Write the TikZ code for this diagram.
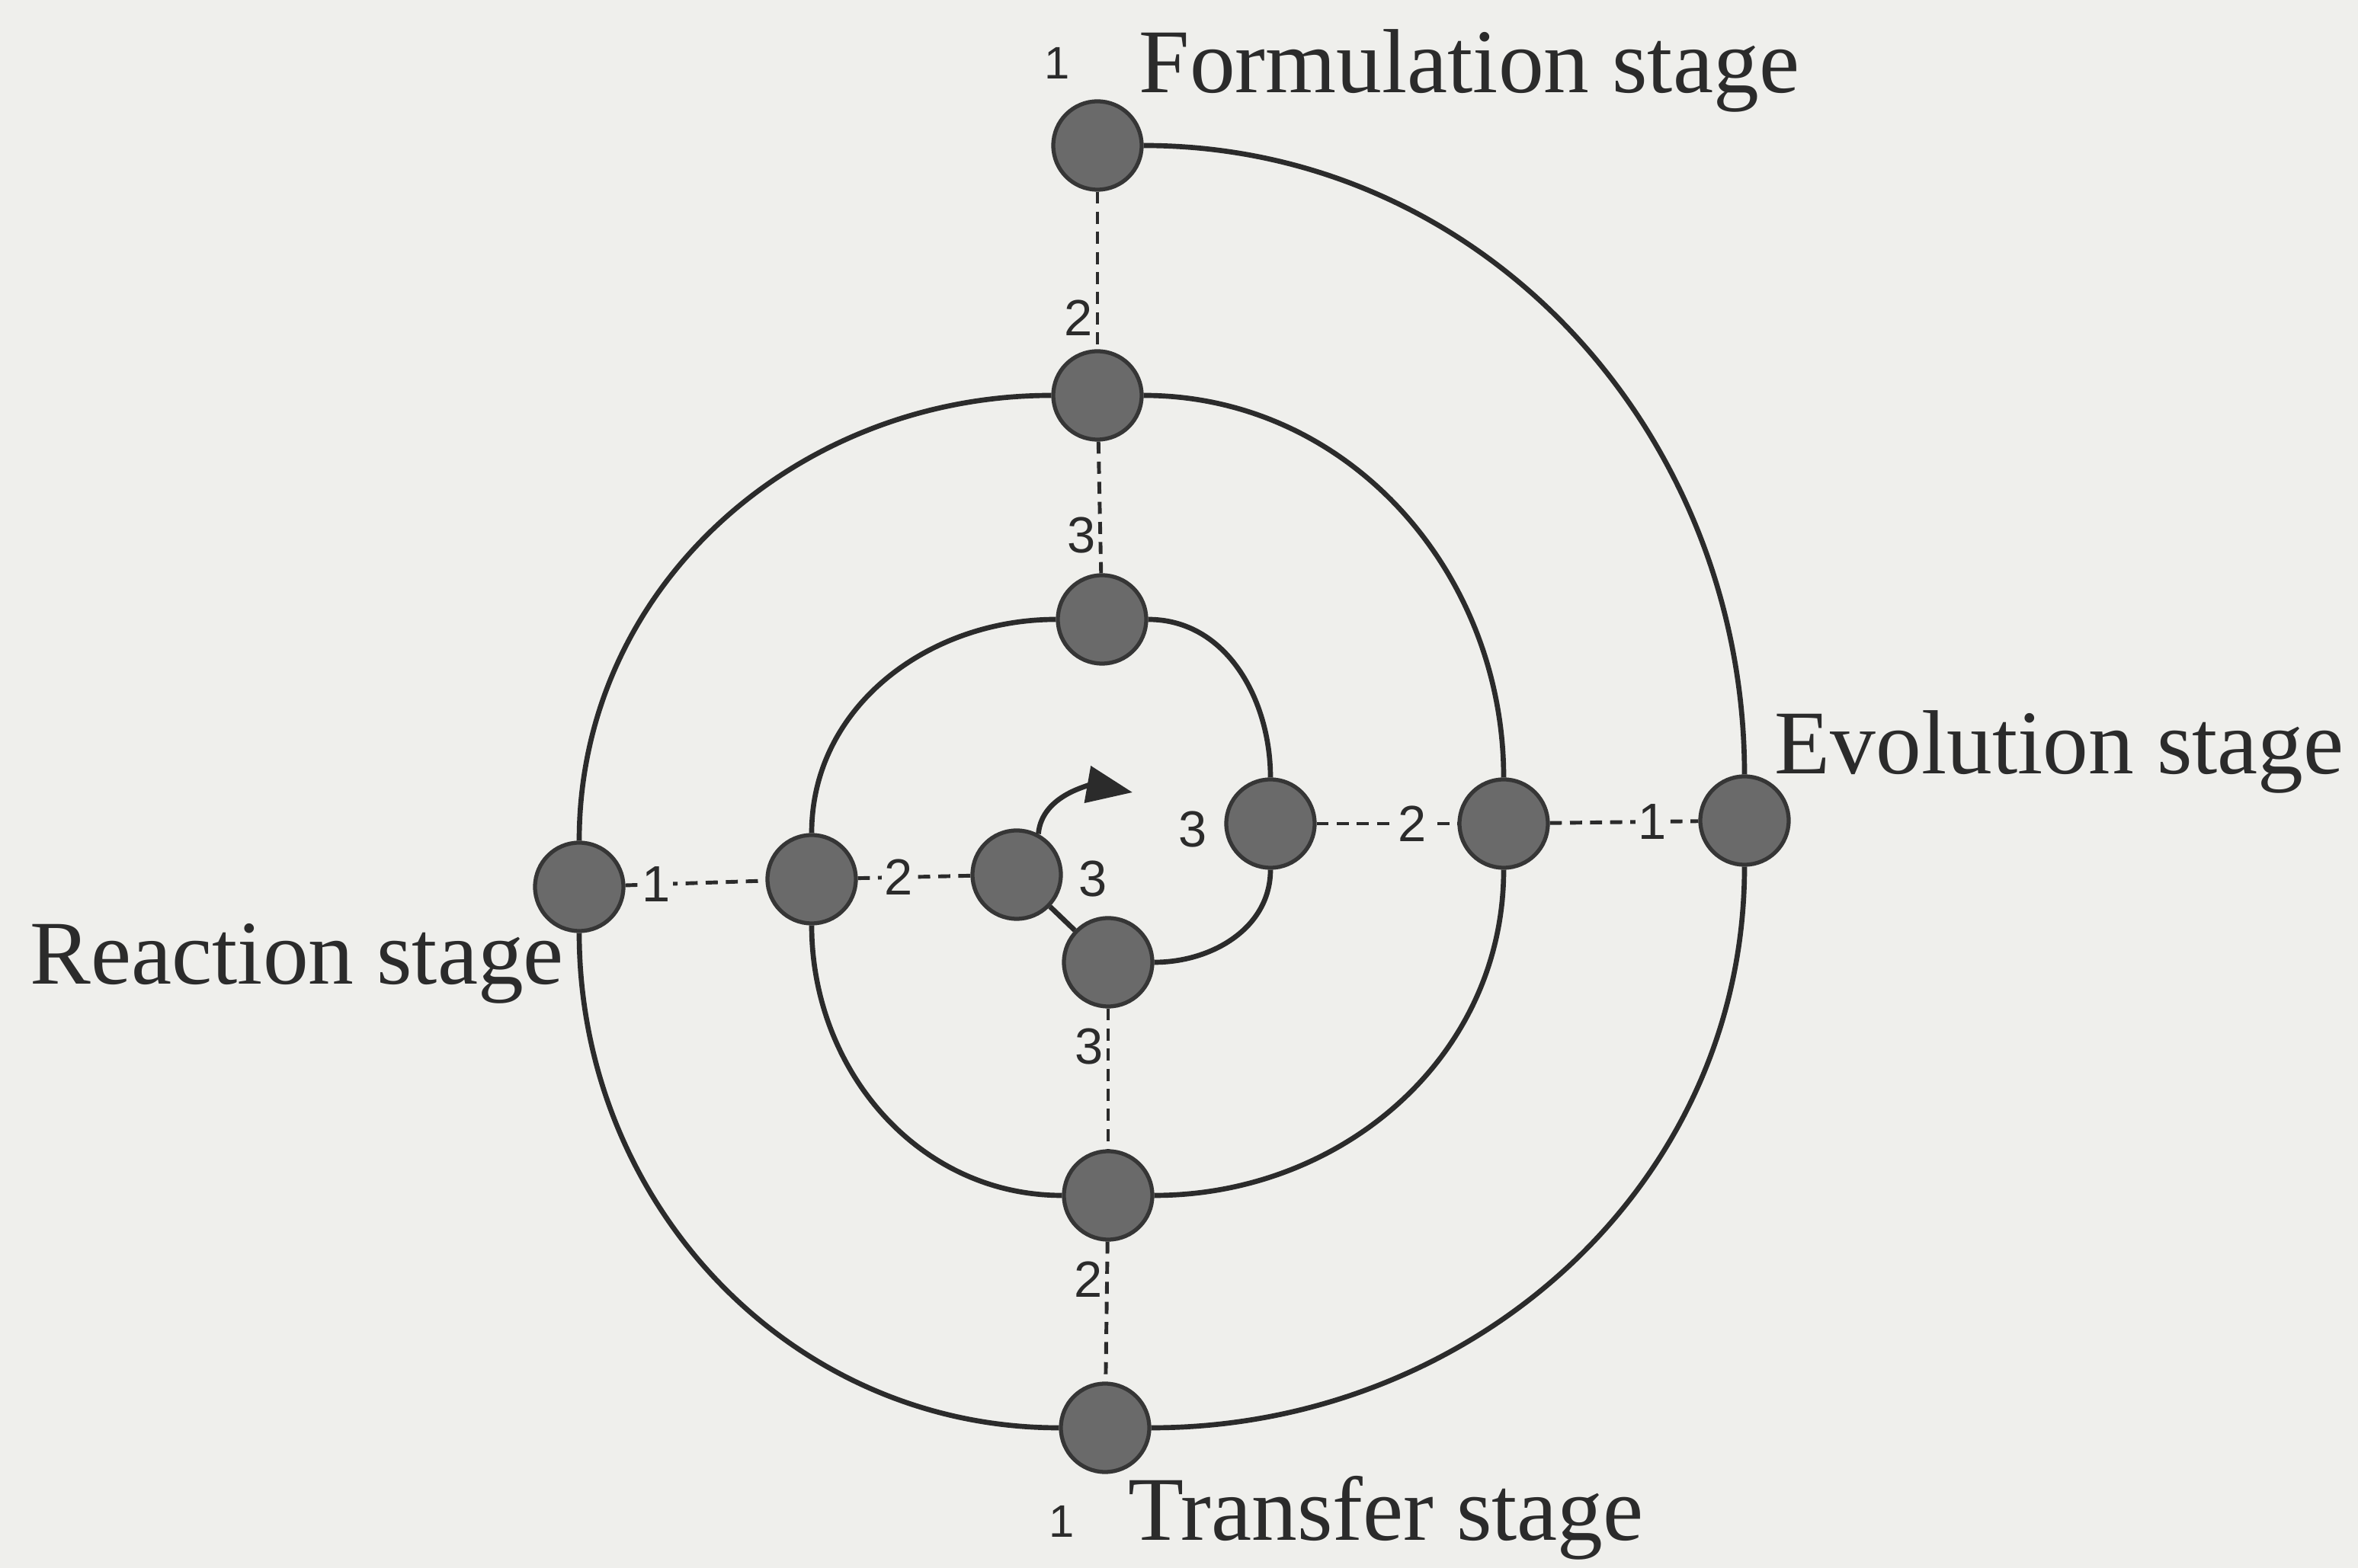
\documentclass[tikz,border=0pt]{standalone}
\usepackage{fontspec}
\setmainfont{Liberation Serif}
\newfontfamily\numfont{Liberation Sans}
\usetikzlibrary{arrows.meta, positioning}
\definecolor{paper}{HTML}{EFEFEC}
\definecolor{ink}{HTML}{2B2B2B}
\definecolor{dotfill}{HTML}{6A6A6A}
\definecolor{dotline}{HTML}{363636}
\tikzset{
  dot/.style    = {circle, draw=dotline, fill=dotfill, line width=1.5pt,
                   minimum size=11.6mm, inner sep=0pt},
  spiral/.style = {line width=1.9pt, draw=ink},
  link/.style   = {line width=1.4pt, draw=ink, dash pattern=on 4.5pt off 3pt},
  num/.style    = {font=\numfont\fontsize{19}{19}\selectfont, text=ink, inner sep=1pt},
  smallnum/.style={font=\numfont\fontsize{17}{17}\selectfont, text=ink, inner sep=1pt},
  stage/.style  = {font=\fontsize{34}{40}\selectfont, text=ink, inner sep=0pt},
}
\begin{document}
\begin{tikzpicture}[x=10mm, y=10mm]
  \fill[paper] (0,0) rectangle (30.94,20.58);
  \useasboundingbox (0,0) rectangle (30.94,20.58);
  % dots: F = formulation, E = evolution, T = transfer, R = reaction
  \foreach \nm/\x/\y in {
    F1/14.40/18.67, F2/14.40/15.39, F3/14.46/12.45,
    E1/22.89/9.81,  E2/19.73/9.77,  E3/16.67/9.77,
    T1/14.50/1.84,  T2/14.54/4.89,  T3/14.54/7.95,
    R1/7.60/8.94,   R2/10.65/9.04,  R3/13.34/9.10}{
    \node[dot] (\nm) at (\x,\y) {};
  }
  % spiral
  \draw[spiral] (F1) to[out=0,in=90] (E1) to[out=-90,in=0] (T1)
    to[out=180,in=-90] (R1) to[out=90,in=180] (F2)
    to[out=0,in=90] (E2) to[out=-90,in=0] (T2)
    to[out=180,in=-90] (R2) to[out=90,in=180] (F3)
    to[out=0,in=90] (E3) to[out=-90,in=0] (T3) -- (R3);
  \coordinate (tip) at (14.86,10.18);
  \draw[spiral, -{Triangle[length=6mm, width=4.8mm]}] (R3.62) to[out=85,in=170] (tip);
  % dashed links
  \draw[link] (F1) -- node[num, left, pos=.8] {2} (F2);
  \draw[link] (F2) -- node[num, left, pos=.71] {3} (F3);
  \draw[link] (T3) -- node[num, left, pos=.27] {3} (T2);
  \draw[link] (T2) -- node[num, left, pos=.27] {2} (T1);
  \draw[link] (R1) -- node[num, fill=paper, pos=.22] {1} (R2);
  \draw[link] (R2) -- node[num, fill=paper, pos=.36] {2} (R3);
  \draw[link] (E3) -- node[num, fill=paper, pos=.68] {2} (E2);
  \draw[link] (E2) -- node[num, fill=paper, pos=.69] {1} (E1);
  \node[num] (e3num) at (15.65,9.69) {3};
  \node[num] (r3num) at (14.34,9.04) {3};
  \node[smallnum] (f1num) at (13.87,19.75) {1};
  \node[smallnum] (t1num) at (13.93,0.61) {1};
  % stage labels
  \node[stage, anchor=base west] (formulation) at (14.94,19.36) {Formulation stage};
  \node[stage, anchor=base west] (evolution) at (23.28,10.42) {Evolution stage};
  \node[stage, anchor=base west] (reaction) at (0.39,7.66) {Reaction stage};
  \node[stage, anchor=base west] (transfer) at (14.80,0.36) {Transfer stage};
\end{tikzpicture}
\end{document}
